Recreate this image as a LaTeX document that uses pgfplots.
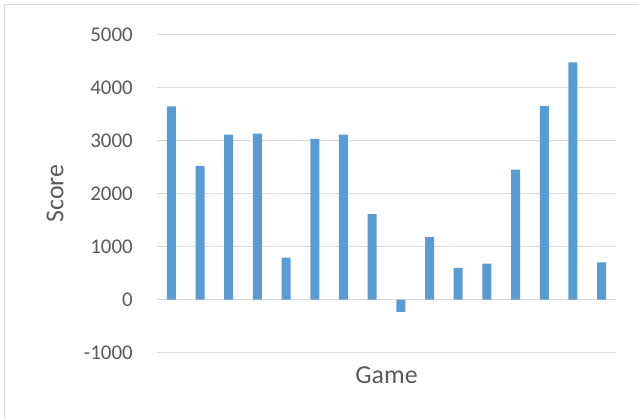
\documentclass[border=0pt]{standalone}
\usepackage{pgfplots}
\pgfplotsset{compat=1.18}
\usepackage{fontspec}
\setmainfont{Carlito}

\definecolor{barblue}{HTML}{5B9BD5}
\definecolor{gridgray}{HTML}{D9D9D9}
\definecolor{textgray}{HTML}{595959}

% Score per game
\pgfplotstableread{
game score
1  3640
2  2520
3  3110
4  3130
5  790
6  3030
7  3110
8  1610
9  -230
10 1180
11 600
12 680
13 2450
14 3650
15 4470
16 700
}\scores

\begin{document}
\begin{tikzpicture}
\useasboundingbox (-157bp,-66.3bp) rectangle (482bp,352.7bp);
% chart frame
\draw[gridgray, line width=1bp] (-152bp,-70bp) -- (-152bp,347.7bp) -- (490bp,347.7bp);
\begin{axis}[
  at={(0,0)}, anchor=south west,
  scale only axis,
  width=459bp, height=318.4bp,
  ymin=-1000, ymax=5000,
  ytick={-1000,0,...,5000},
  xmin=0.5, xmax=16.5,
  xtick=\empty,
  axis line style={draw=none},
  major tick length=0pt,
  ymajorgrids,
  grid style={gridgray, line width=1.2bp},
  /pgf/number format/assume math mode=true,
  /pgf/number format/1000 sep={},
  yticklabel style={font=\fontsize{21}{25}\selectfont, text=textgray, anchor=east, inner sep=0pt, xshift=-24bp},
  ylabel={Score},
  xlabel={Game},
  ylabel style={font=\fontsize{26}{30}\selectfont, text=textgray, at={(axis description cs:-0.2222,0.5)}, anchor=center},
  xlabel style={font=\fontsize{26}{30}\selectfont, text=textgray, at={(axis description cs:0.5,-0.0961)}, anchor=base},
]
\addplot[ybar, bar width=9bp, fill=barblue, draw=none] table[x=game, y=score] {\scores};
\end{axis}
\end{tikzpicture}
\end{document}
